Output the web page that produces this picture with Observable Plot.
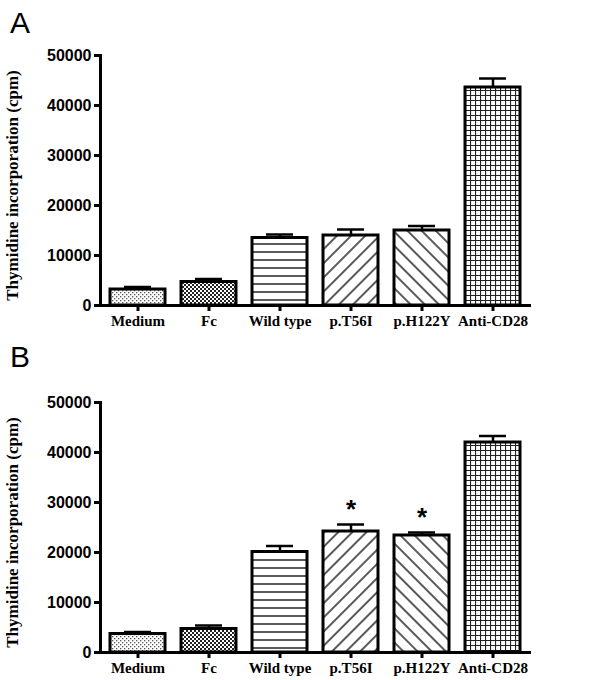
<!DOCTYPE html>
<html><head><meta charset="utf-8">
<script src="https://cdn.jsdelivr.net/npm/d3@7"></script>
<script src="https://cdn.jsdelivr.net/npm/@observablehq/plot@0.6"></script>
<style>
body{margin:0;background:#fff;}
.panel{position:relative;width:606px;height:340px;}
.letter{position:absolute;left:10px;font:30px "Liberation Sans",Arial,sans-serif;}
</style>
</head><body>
<svg width="0" height="0" style="position:absolute">
  <defs>
    <pattern id="pDots" width="4" height="4" patternUnits="userSpaceOnUse">
      <rect width="4" height="4" fill="#fff"/><rect x="0" y="0" width="1.3" height="1.3" fill="#555"/><rect x="2" y="2" width="1.3" height="1.3" fill="#555"/>
    </pattern>
    <pattern id="pCheck" width="4" height="4" patternUnits="userSpaceOnUse">
      <rect width="4" height="4" fill="#fff"/><rect width="2" height="2" fill="#222"/><rect x="2" y="2" width="2" height="2" fill="#222"/>
    </pattern>
    <pattern id="pHoriz" width="8" height="8" patternUnits="userSpaceOnUse">
      <rect width="8" height="8" fill="#fff"/><line x1="0" y1="4" x2="8" y2="4" stroke="#222" stroke-width="1.5"/>
    </pattern>
    <pattern id="pFwd" width="10" height="10" patternUnits="userSpaceOnUse" patternTransform="rotate(45)">
      <rect width="10" height="10" fill="#fff"/><line x1="5" y1="0" x2="5" y2="10" stroke="#222" stroke-width="1.5"/>
    </pattern>
    <pattern id="pBack" width="10" height="10" patternUnits="userSpaceOnUse" patternTransform="rotate(-45)">
      <rect width="10" height="10" fill="#fff"/><line x1="5" y1="0" x2="5" y2="10" stroke="#222" stroke-width="1.5"/>
    </pattern>
    <pattern id="pGrid" width="5" height="5" patternUnits="userSpaceOnUse">
      <rect width="5" height="5" fill="#fff"/><path d="M0 0.5H5M0.5 0V5" stroke="#222" stroke-width="1.2"/>
    </pattern>
  </defs>
</svg>
<div id="chart"></div>
<script>
const categories = ["Medium", "Fc", "Wild type", "p.T56I", "p.H122Y", "Anti-CD28"];
const fills = ["url(#pDots)", "url(#pCheck)", "url(#pHoriz)", "url(#pFwd)", "url(#pBack)", "url(#pGrid)"];
const valuesA = [3200, 4700, 13500, 14000, 15000, 43600];
const errTopA = [3700, 5300, 14200, 15200, 15900, 45400];
const valuesB = [3700, 4700, 20100, 24200, 23400, 42000];
const errTopB = [4100, 5400, 21300, 25600, 24000, 43300];
const starsB = ["", "", "", "*", "*", ""];

function panel(letter, values, errTop, stars, mt, mb, letterTop) {
  const data = categories.map((c, i) => ({c, v: values[i], e: errTop[i], f: fills[i], s: stars ? stars[i] : ""}));
  const chart = Plot.plot({
    width: 606, height: 340,
    marginLeft: 100, marginRight: 77, marginTop: mt, marginBottom: mb,
    x: {domain: categories, paddingInner: 0.23, paddingOuter: 0.1, label: null},
    y: {domain: [0, 50000], label: null},
    color: {type: "identity"},
    marks: [
      Plot.ruleX(data, {x: "c", y1: "v", y2: "e", strokeWidth: 2.5}),
      Plot.tickY(data, {x: "c", y: "e", strokeWidth: 2.5, insetLeft: 14, insetRight: 14}),
      Plot.barY(data, {x: "c", y: "v", fill: "f", stroke: "black", strokeWidth: 3}),
      Plot.text(data.filter(d => d.s), {x: "c", y: d => d.e + 3000, text: "s", fontSize: 26, fontWeight: "bold", fontFamily: "Liberation Sans"}),
      Plot.axisY({ticks: [0, 10000, 20000, 30000, 40000, 50000], tickFormat: d => String(d), tickSize: 6, strokeWidth: 3, fontSize: 16, fontWeight: "bold", fontFamily: "Liberation Sans", label: null}),
      Plot.axisX({tickSize: 6, strokeWidth: 3, fontSize: 15, fontWeight: "bold", fontFamily: "Liberation Serif", label: null, tickPadding: 4}),
      Plot.frame({anchor: "left", strokeWidth: 3}),
      Plot.frame({anchor: "bottom", strokeWidth: 3}),
      Plot.text(["Thymidine incorporation (cpm)"], {frameAnchor: "left", textAnchor: "middle", rotate: -90, dx: -88, dy: 5, fontSize: 17, fontWeight: "bold", fontFamily: "Liberation Serif", letterSpacing: 1.2})
    ]
  });
  const div = d3.select("#chart").append("div").attr("class", "panel");
  div.append(() => chart);
  div.append("div").attr("class", "letter").style("top", letterTop + "px").text(letter);
}

panel("A", valuesA, errTopA, null, 55, 35, 6);
panel("B", valuesB, errTopB, starsB, 62, 28, 0);
</script>
</body></html>
